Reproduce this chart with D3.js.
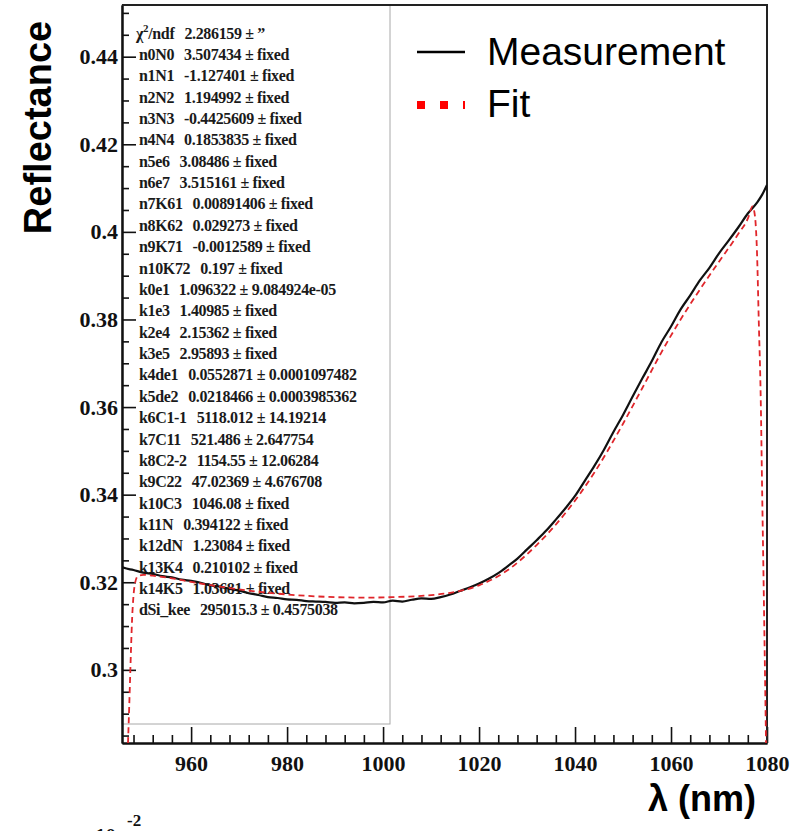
<!DOCTYPE html>
<html>
<head>
<meta charset="utf-8">
<script src="https://cdn.jsdelivr.net/npm/d3@7"></script>
<style>
  body { margin: 0; background: #fff; }
  svg { display: block; }
</style>
</head>
<body>
<svg id="chart" width="795" height="831"></svg>
<script>
// Measured reflectance spectrum (wavelength in nm, reflectance)
const measLambda = [945.6, 946, 948, 950, 952, 954, 956, 958, 960, 962, 964, 966, 968, 970, 972, 974, 976, 978, 980,
  982, 984, 986, 988, 990, 992, 994, 996, 998, 1000, 1002, 1004, 1006, 1008, 1010, 1012, 1014, 1016, 1018, 1020,
  1022, 1024, 1026, 1028, 1030, 1032, 1034, 1036, 1038, 1040, 1042, 1044, 1046, 1048, 1050, 1052, 1054, 1056,
  1058, 1060, 1062, 1064, 1066, 1068, 1070, 1072, 1074, 1076, 1078, 1079, 1080];
const measR = [0.3235, 0.3233, 0.3228, 0.3222, 0.3219, 0.3214, 0.3211, 0.3206, 0.3203, 0.3199, 0.3193, 0.3190, 0.3185,
  0.3181, 0.3175, 0.3171, 0.3166, 0.3164, 0.3161, 0.3160, 0.3157, 0.3156, 0.3155, 0.3153, 0.3154, 0.3152, 0.3153,
  0.3155, 0.3154, 0.3158, 0.3156, 0.3160, 0.3163, 0.3162, 0.3166, 0.3172, 0.3180, 0.3188, 0.3197, 0.3208, 0.3221,
  0.3237, 0.3254, 0.3275, 0.3296, 0.3318, 0.3343, 0.3369, 0.3397, 0.3431, 0.3465, 0.3502, 0.3543, 0.3582, 0.3624,
  0.3665, 0.3705, 0.3748, 0.3784, 0.3823, 0.3855, 0.3889, 0.3918, 0.3951, 0.3980, 0.4010, 0.4042, 0.4068, 0.4085, 0.4107];

// Fitted model, including its cut-off at both ends of the range
const fitLambda = [946.85, 947.1, 947.3, 947.5, 947.7, 947.95, 948.3, 948.9, 950, 952, 956, 960, 966, 972, 978, 984,
  990, 996, 1002, 1008, 1014, 1020, 1026, 1032, 1038, 1044, 1050, 1054, 1058, 1062, 1066, 1070, 1074, 1076, 1077,
  1077.5, 1077.9, 1078.3, 1078.7, 1079.0, 1079.35, 1079.6, 1079.8];
const fitR = [0.2833, 0.2915, 0.2985, 0.3055, 0.3115, 0.3163, 0.3197, 0.3214, 0.3217, 0.3215, 0.3209, 0.3201, 0.3190,
  0.3181, 0.3174, 0.3169, 0.3166, 0.3165, 0.3166, 0.3169, 0.3176, 0.3193, 0.3228, 0.3285, 0.3358, 0.3450, 0.3562,
  0.3643, 0.3725, 0.3800, 0.3868, 0.3932, 0.3995, 0.4030, 0.4058, 0.4035, 0.3958, 0.3790, 0.3616, 0.3400, 0.3160,
  0.2980, 0.2833];

const xTicks = [960, 980, 1000, 1020, 1040, 1060, 1080];
const xMinorTicks = [948, 952, 956, 964, 968, 972, 976, 984, 988, 992, 996, 1004, 1008, 1012, 1016, 1024, 1028, 1032,
  1036, 1044, 1048, 1052, 1056, 1064, 1068, 1072, 1076];
const yTicks = [0.30, 0.32, 0.34, 0.36, 0.38, 0.40, 0.42, 0.44];
const yTickLabels = ["0.3", "0.32", "0.34", "0.36", "0.38", "0.4", "0.42", "0.44"];
const yMinorTicks = [0.285, 0.29, 0.295, 0.305, 0.31, 0.315, 0.325, 0.33, 0.335, 0.345, 0.35, 0.355, 0.365, 0.37,
  0.375, 0.385, 0.39, 0.395, 0.405, 0.41, 0.415, 0.425, 0.43, 0.435, 0.445, 0.45];

// Fit parameter box
const statNames = ["n0N0", "n1N1", "n2N2", "n3N3", "n4N4", "n5e6", "n6e7", "n7K61", "n8K62", "n9K71", "n10K72",
  "k0e1", "k1e3", "k2e4", "k3e5", "k4de1", "k5de2", "k6C1-1", "k7C11", "k8C2-2", "k9C22", "k10C3", "k11N",
  "k12dN", "k13K4", "k14K5", "dSi_kee"];
const statValues = ["3.507434 \u00B1 fixed", "-1.127401 \u00B1 fixed", "1.194992 \u00B1 fixed",
  "-0.4425609 \u00B1 fixed", "0.1853835 \u00B1 fixed", "3.08486 \u00B1 fixed", "3.515161 \u00B1 fixed",
  "0.00891406 \u00B1 fixed", "0.029273 \u00B1 fixed", "-0.0012589 \u00B1 fixed", "0.197 \u00B1 fixed",
  "1.096322 \u00B1 9.084924e-05", "1.40985 \u00B1 fixed", "2.15362 \u00B1 fixed", "2.95893 \u00B1 fixed",
  "0.0552871 \u00B1 0.0001097482", "0.0218466 \u00B1 0.0003985362", "5118.012 \u00B1 14.19214",
  "521.486 \u00B1 2.647754", "1154.55 \u00B1 12.06284", "47.02369 \u00B1 4.676708", "1046.08 \u00B1 fixed",
  "0.394122 \u00B1 fixed", "1.23084 \u00B1 fixed", "0.210102 \u00B1 fixed", "1.03681 \u00B1 fixed",
  "295015.3 \u00B1 0.4575038"];
const chiValue = "2.286159 \u00B1 \u201D";

const legendLabels = ["Measurement", "Fit"];

const svg = d3.select("#chart");
const frame = { left: 122, right: 767, top: 5, bottom: 743 };

const x = d3.scaleLinear().domain([945.6, 1080]).range([frame.left, frame.right]);
const y = d3.scaleLinear().domain([0.2833, 0.4518]).range([frame.bottom, frame.top]);

const serif = "'Liberation Serif', 'Times New Roman', serif";
const sans = "'Liberation Sans', Arial, sans-serif";

svg.append("defs").append("clipPath").attr("id", "plotClip")
  .append("rect")
  .attr("x", frame.left).attr("y", frame.top)
  .attr("width", frame.right - frame.left).attr("height", frame.bottom - frame.top);

// Fit parameter box
const stats = svg.append("g");
stats.append("rect")
  .attr("x", frame.left).attr("y", frame.top)
  .attr("width", 268).attr("height", 719)
  .attr("fill", "none").attr("stroke", "#a8a8a8").attr("stroke-width", 1);

const lineStep = 21.37;
const firstLine = 38.5;
const statFont = g => g.attr("font-family", serif).attr("font-weight", "bold").attr("font-size", 16)
  .attr("letter-spacing", -0.35).attr("fill", "#1a1a1a");

const chi = stats.append("text").attr("x", 136).attr("y", firstLine).call(statFont);
chi.append("tspan").text("\u03C7");
chi.append("tspan").attr("font-size", 11).attr("dy", -7).text("2");
chi.append("tspan").attr("dy", 7).text("/ndf");
chi.append("tspan").attr("dx", 10).text(chiValue);

statNames.forEach((name, i) => {
  const t = stats.append("text")
    .attr("x", 139).attr("y", firstLine + (i + 1) * lineStep)
    .call(statFont);
  t.append("tspan").text(name);
  t.append("tspan").attr("dx", 10).text(statValues[i]);
});

// Axes with inward ticks
const xAxis = svg.append("g")
  .attr("transform", `translate(0,${frame.bottom})`)
  .call(d3.axisBottom(x).tickValues(xTicks).tickSize(-16).tickSizeOuter(0).tickPadding(12).tickFormat(d3.format("d")));
const xMinor = svg.append("g")
  .attr("transform", `translate(0,${frame.bottom})`)
  .call(d3.axisBottom(x).tickValues(xMinorTicks).tickSize(-8).tickSizeOuter(0).tickFormat(""));
const yAxis = svg.append("g")
  .attr("transform", `translate(${frame.left},0)`)
  .call(d3.axisLeft(y).tickValues(yTicks).tickSize(-14).tickSizeOuter(0).tickPadding(4)
    .tickFormat((d, i) => yTickLabels[i]));
const yMinor = svg.append("g")
  .attr("transform", `translate(${frame.left},0)`)
  .call(d3.axisLeft(y).tickValues(yMinorTicks).tickSize(-7).tickSizeOuter(0).tickFormat(""));

[xAxis, xMinor, yAxis, yMinor].forEach(g => {
  g.selectAll("path.domain").attr("stroke", "#111").attr("stroke-width", 2);
  g.selectAll(".tick line").attr("stroke", "#111").attr("stroke-width", 1.6);
  g.selectAll("text")
    .attr("font-family", serif).attr("font-weight", "bold").attr("font-size", 22).attr("fill", "#111");
});

// Top and right border of the frame
svg.append("path")
  .attr("d", `M${frame.left},${frame.top}H${frame.right}V${frame.bottom}`)
  .attr("fill", "none").attr("stroke", "#222").attr("stroke-width", 2);

// Curves
const plot = svg.append("g").attr("clip-path", "url(#plotClip)");
const measData = measLambda.map((l, i) => [l, measR[i]]);
const fitData = fitLambda.map((l, i) => [l, fitR[i]]);
const line = d3.line().x(d => x(d[0])).y(d => y(d[1])).curve(d3.curveMonotoneX);

plot.append("path").datum(measData)
  .attr("d", line)
  .attr("fill", "none").attr("stroke", "#111").attr("stroke-width", 2.2).attr("stroke-linejoin", "round");
plot.append("path").datum(fitData)
  .attr("d", line)
  .attr("fill", "none").attr("stroke", "#e0262b").attr("stroke-width", 1.8).attr("stroke-dasharray", "6,4");

// Legend
const legend = svg.append("g");
legend.append("line")
  .attr("x1", 417).attr("x2", 465).attr("y1", 52).attr("y2", 52)
  .attr("stroke", "#000").attr("stroke-width", 2.6);
legend.append("text")
  .attr("x", 487).attr("y", 65)
  .attr("font-family", sans).attr("font-size", 39).attr("fill", "#000")
  .text(legendLabels[0]);
legend.append("line")
  .attr("x1", 417).attr("x2", 465).attr("y1", 105).attr("y2", 105)
  .attr("stroke", "#ff0000").attr("stroke-width", 8).attr("stroke-dasharray", "8,15");
legend.append("text")
  .attr("x", 487).attr("y", 117)
  .attr("font-family", sans).attr("font-size", 39).attr("fill", "#000")
  .text(legendLabels[1]);

// Axis titles
svg.append("text")
  .attr("transform", "translate(51,127.5) rotate(-90)")
  .attr("text-anchor", "middle")
  .attr("font-family", sans).attr("font-weight", "bold").attr("font-size", 38).attr("fill", "#000")
  .text("Reflectance");
svg.append("text")
  .attr("x", 756).attr("y", 811)
  .attr("text-anchor", "end")
  .attr("font-family", sans).attr("font-weight", "bold").attr("font-size", 36).attr("fill", "#000")
  .text("\u03BB (nm)");

// Axis exponent
svg.append("text")
  .attr("x", 95).attr("y", 843)
  .attr("font-family", serif).attr("font-weight", "bold").attr("font-size", 21).attr("fill", "#111")
  .text("10");
svg.append("text")
  .attr("x", 127).attr("y", 826)
  .attr("font-family", serif).attr("font-weight", "bold").attr("font-size", 17).attr("fill", "#111")
  .text("-2");
</script>
</body>
</html>
